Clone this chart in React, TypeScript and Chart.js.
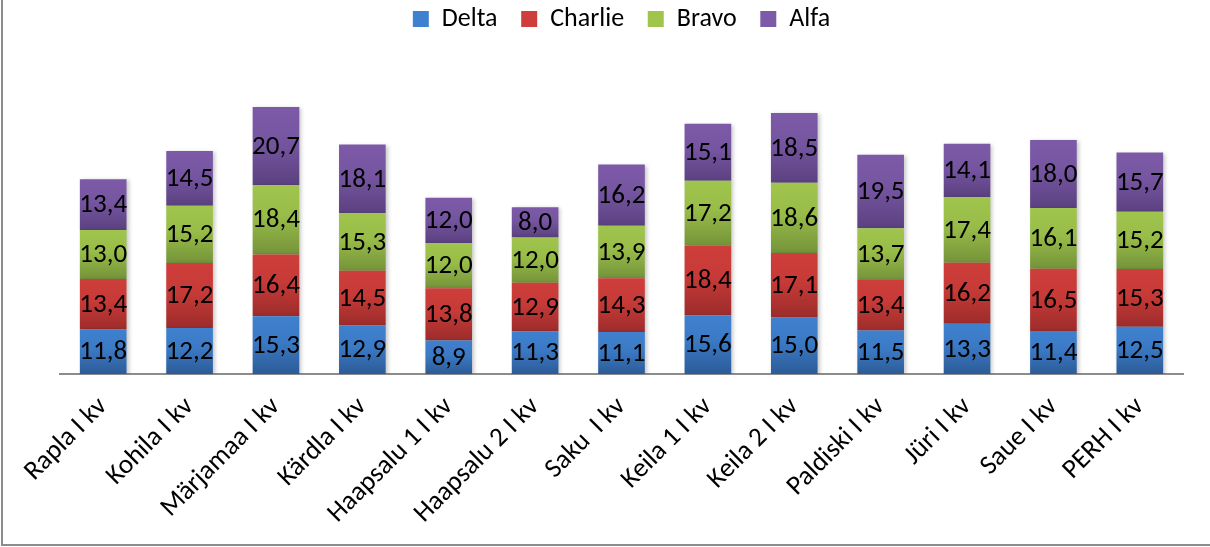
import React, { useEffect, useRef } from "react";
import { Chart, registerables } from "chart.js";

Chart.register(...registerables);

const categories = [
  "Rapla I kv",
  "Kohila I kv",
  "Märjamaa I kv",
  "Kärdla I kv",
  "Haapsalu 1 I kv",
  "Haapsalu 2 I kv",
  "Saku  I kv",
  "Keila 1 I kv",
  "Keila 2 I kv",
  "Paldiski I kv",
  "Jüri I kv",
  "Saue I kv",
  "PERH I kv",
];

const seriesNames = ["Delta", "Charlie", "Bravo", "Alfa"];

const delta = [11.8, 12.2, 15.3, 12.9, 8.9, 11.3, 11.1, 15.6, 15.0, 11.5, 13.3, 11.4, 12.5];
const charlie = [13.4, 17.2, 16.4, 14.5, 13.8, 12.9, 14.3, 18.4, 17.1, 13.4, 16.2, 16.5, 15.3];
const bravo = [13.0, 15.2, 18.4, 15.3, 12.0, 12.0, 13.9, 17.2, 18.6, 13.7, 17.4, 16.1, 15.2];
const alfa = [13.4, 14.5, 20.7, 18.1, 12.0, 8.0, 16.2, 15.1, 18.5, 19.5, 14.1, 18.0, 15.7];

const seriesValues = [delta, charlie, bravo, alfa];

// [top, middle, bottom, legend]
const palettes = [
  ["#3f81cf", "#3b79c4", "#2c5b97", "#3874bd"],
  ["#ce3e3a", "#c63a37", "#9c2c2b", "#c0393a"],
  ["#a0c54d", "#98bc48", "#74933a", "#8fb044"],
  ["#7d5aa8", "#7555a0", "#5b4180", "#6f519a"],
];

const FONT = "Carlito, Calibri, Lato, sans-serif";

function makeBg(i: number) {
  return (ctx: any) => {
    const chart = ctx.chart;
    const [c0, c1, c2, cl] = palettes[i];
    if (ctx.type !== "data") return cl;
    const y = chart.scales && chart.scales.y;
    if (!y) return c1;
    let start = 0;
    for (let d = 0; d < i; d++) start += chart.data.datasets[d].data[ctx.dataIndex];
    const end = start + chart.data.datasets[i].data[ctx.dataIndex];
    const top = y.getPixelForValue(end);
    const bottom = y.getPixelForValue(start);
    if (!isFinite(top) || !isFinite(bottom) || top === bottom) return c1;
    const g = chart.ctx.createLinearGradient(0, top, 0, bottom);
    g.addColorStop(0, c0);
    g.addColorStop(0.45, c1);
    g.addColorStop(1, c2);
    return g;
  };
}

const labelPlugin = {
  id: "segLabels",
  beforeDatasetsDraw(chart: any) {
    const ctx = chart.ctx;
    ctx.save();
    ctx.shadowColor = "rgba(0,0,0,0.22)";
    ctx.shadowBlur = 4;
    ctx.shadowOffsetX = 2;
    ctx.shadowOffsetY = 1;
  },
  afterDatasetsDraw(chart: any) {
    const ctx = chart.ctx;
    ctx.restore();
    ctx.save();
    ctx.font = `27px ${FONT}`;
    ctx.fillStyle = "#000";
    ctx.textAlign = "center";
    ctx.textBaseline = "middle";
    chart.data.datasets.forEach((ds: any, di: number) => {
      const meta = chart.getDatasetMeta(di);
      meta.data.forEach((el: any, idx: number) => {
        const v = ds.data[idx];
        const p = el.getCenterPoint();
        ctx.fillText(v.toFixed(1).replace(".", ","), p.x, p.y + 1);
      });
    });
    ctx.restore();
  },
};

export default function App() {
  const ref = useRef<HTMLCanvasElement | null>(null);

  useEffect(() => {
    if (!ref.current) return;
    Chart.defaults.font.family = FONT;
    const chart = new Chart(ref.current, {
      type: "bar",
      data: {
        labels: categories,
        datasets: seriesNames.map((name, i) => ({
          label: name,
          data: seriesValues[i],
          backgroundColor: makeBg(i),
          borderWidth: 0,
          categoryPercentage: 0.54,
          barPercentage: 1,
        })),
      },
      options: {
        animation: false,
        responsive: true,
        maintainAspectRatio: false,
        layout: { padding: { left: 60, right: 27, top: 0, bottom: 0 } },
        plugins: {
          legend: {
            position: "top",
            labels: {
              font: { size: 26, family: FONT },
              color: "#000",
              boxWidth: 16,
              boxHeight: 16,
              padding: 6,
              generateLabels(chart: any) {
                const items = Chart.defaults.plugins.legend.labels.generateLabels(chart);
                return items.map((it: any, k: number) => ({
                  ...it,
                  text: k < items.length - 1 ? it.text + "   " : it.text,
                }));
              },
            },
          },
          tooltip: { enabled: false },
        },
        scales: {
          x: {
            stacked: true,
            grid: { display: false, drawTicks: false },
            border: { display: true, color: "#8c8c8c", width: 2 },
            ticks: {
              color: "#000",
              font: { size: 27, family: FONT },
              minRotation: 45,
              maxRotation: 45,
              autoSkip: false,
              padding: 17,
            },
            afterFit(scale: any) {
              scale.height = 173;
            },
          },
          y: {
            stacked: true,
            display: false,
            min: 0,
            max: 88,
          },
        },
      },
      plugins: [labelPlugin],
    });
    return () => chart.destroy();
  }, []);

  return (
    <div
      style={{
        position: "fixed",
        left: 0,
        top: 0,
        width: 1210,
        height: 547,
        overflow: "hidden",
        background: "#fff",
      }}
    >
      <div
        style={{
          position: "absolute",
          left: 1,
          top: -10,
          width: 1240,
          height: 556,
          boxSizing: "border-box",
          border: "2px solid #8c8c8c",
        }}
      />
      <div style={{ position: "absolute", left: 0, top: 0, width: 1210, height: 547 }}>
        <canvas ref={ref} />
      </div>
    </div>
  );
}
